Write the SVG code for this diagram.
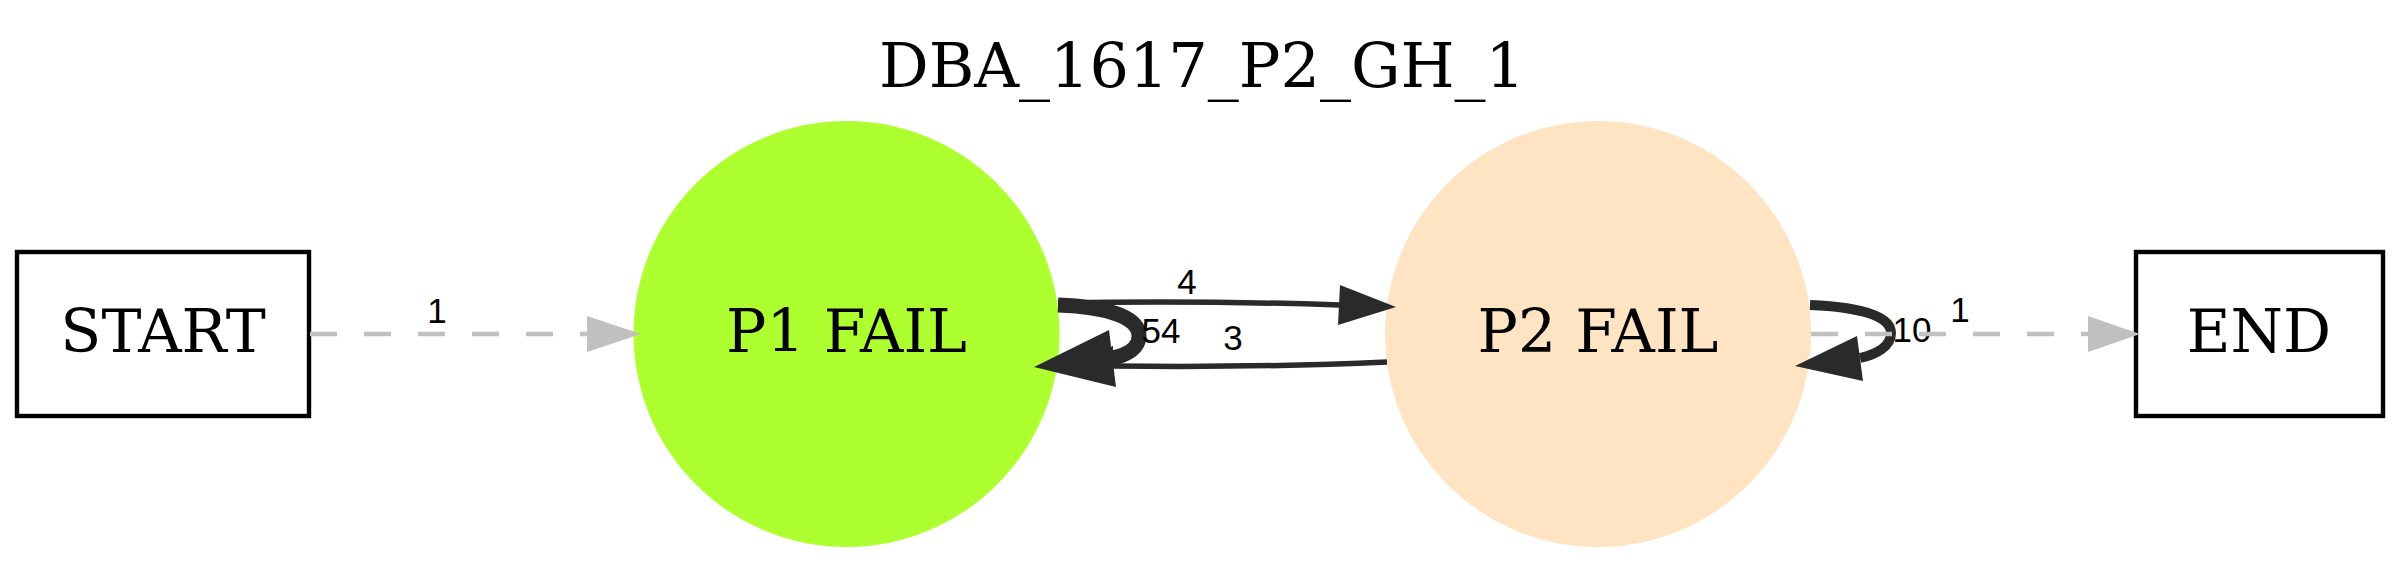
<svg xmlns="http://www.w3.org/2000/svg" width="2400" height="565" viewBox="0 0 2400 565">
<style>
.serif{font-family:"DejaVu Serif","Liberation Serif",serif;font-size:60px;fill:#000;text-anchor:middle}
.title{font-size:62px}
.lbl{font-family:"Liberation Sans",Arial,sans-serif;font-size:35px;fill:#000;text-anchor:middle}
.box{fill:#fff;stroke:#000;stroke-width:4.4}
.dash{fill:none;stroke:#c0c0c0;stroke-width:4.6;stroke-dasharray:27 27}
.grayhead{fill:#c0c0c0}
.dark{fill:none;stroke:#2a2a2a}
.darkhead{fill:#2a2a2a}
</style>
<rect width="2400" height="565" fill="#fff"/>
<text class="serif title" x="1202" y="87">DBA_1617_P2_GH_1</text>
<g id="node-start">
<rect class="box" x="17" y="252" width="292" height="164"/>
<text class="serif" x="163" y="352">START</text>
</g>
<g id="node-p1">
<circle cx="846.5" cy="334" r="213" fill="#adff2f"/>
<text class="serif" x="846.5" y="352">P1 FAIL</text>
</g>
<g id="node-p2">
<circle cx="1598" cy="334" r="213" fill="#ffe4c4"/>
<text class="serif" x="1598" y="352">P2 FAIL</text>
</g>
<g id="node-end">
<rect class="box" x="2136" y="252" width="247" height="164"/>
<text class="serif" x="2259" y="352">END</text>
</g>
<g id="connectors">
<g id="e-start-p1">
<path class="dash" d="M310,334 L587,334"/>
<polygon class="grayhead" points="587,316 641,334 587,352"/>
<text class="lbl" x="437" y="323">1</text>
</g>
<g id="e-p1-p1">
<path class="dark" stroke-width="15" d="M1058,305 C1110,307 1139,318 1139,336 C1139,348 1127,355 1112,358"/>
<polygon class="darkhead" points="1109,330 1034,367 1116,387"/>
<text class="lbl" x="1161" y="343">54</text>
</g>
<g id="e-p1-p2">
<path class="dark" stroke-width="5.5" d="M1058,303 C1150,301 1250,302 1340,305"/>
<polygon class="darkhead" points="1340,285 1396,307 1338,325"/>
<text class="lbl" x="1187" y="294">4</text>
</g>
<g id="e-p2-p1">
<path class="dark" stroke-width="5.5" d="M1387,362 C1300,366 1200,367 1113,366"/>
<polygon class="darkhead" points="1113,346 1057,366 1113,386"/>
<text class="lbl" x="1233" y="350">3</text>
</g>
<g id="e-p2-p2">
<path class="dark" stroke-width="10" d="M1810,305 C1860,307 1891,316 1891,333 C1891,346 1877,354 1860,358"/>
<polygon class="darkhead" points="1857,336 1795,366 1863,381"/>
<text class="lbl" x="1912" y="342">10</text>
</g>
<g id="e-p2-end">
<path class="dash" d="M1811,334 L2088,334"/>
<polygon class="grayhead" points="2088,316 2140,334 2088,352"/>
<text class="lbl" x="1960" y="322">1</text>
</g>
</g>
</svg>
